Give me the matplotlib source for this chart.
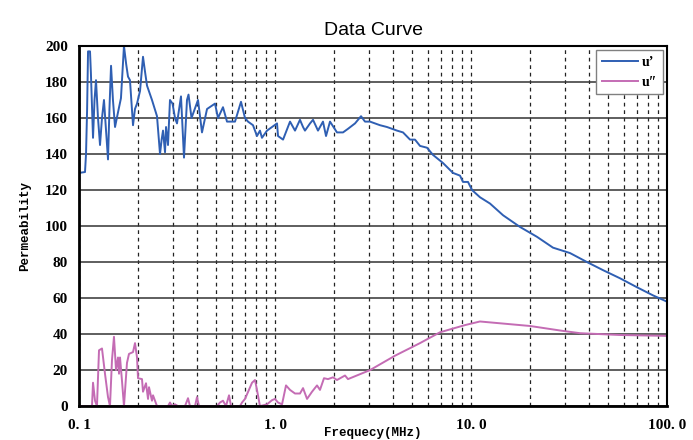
import matplotlib
matplotlib.use("Agg")
import matplotlib.pyplot as plt
import numpy as np

# u' (real part) : frequency in MHz, permeability
f_real = [0.100, 0.1073, 0.1086, 0.1100, 0.1112, 0.1138, 0.1150, 0.1179, 0.1200, 0.1221,
          0.1250, 0.1280, 0.1310, 0.1341, 0.1370, 0.1406, 0.1430, 0.1457, 0.1490, 0.1527,
          0.1580, 0.1637, 0.1696, 0.1740, 0.1778, 0.1820, 0.1886, 0.1930, 0.1977, 0.2048,
          0.2121, 0.2170, 0.2223, 0.2357, 0.2500, 0.2590, 0.2640, 0.2683, 0.2747, 0.2780,
          0.2845, 0.2912, 0.3000, 0.3089, 0.3162, 0.3314, 0.3433, 0.3556, 0.3620, 0.3750,
          0.4047, 0.4241, 0.4500, 0.4942, 0.5119, 0.5428, 0.5689, 0.6033, 0.6251, 0.6707,
          0.7030, 0.7282, 0.7722, 0.8091, 0.8381, 0.8580, 0.9104, 0.9654, 1.024, 1.036,
          1.099, 1.193, 1.265, 1.341, 1.390, 1.422, 1.509, 1.563, 1.657, 1.757,
          1.821, 1.908, 2.071, 2.223, 2.357, 2.560, 2.747, 2.878, 3.052, 3.433,
          3.727, 4.193, 4.499, 4.885, 5.179, 5.494, 5.964, 6.400, 7.196, 8.093,
          8.788, 9.103, 9.654, 10.12, 11.11, 12.50, 14.57, 17.78, 21.72, 26.20,
          32.00, 39.07, 47.17, 57.56, 70.30, 84.84, 100.0]
u_real = [129.5, 130, 140, 165, 197, 197, 185, 149, 170, 181,
          160, 145, 160, 170, 155, 137, 165, 189, 170, 155,
          163, 171, 200, 190, 183, 181, 156, 165, 168, 175,
          194, 186, 178, 170, 161, 140, 148, 153, 141, 155,
          145, 170, 168, 160, 157, 172, 138, 170, 173, 160,
          170, 152, 165, 168, 160, 166, 158, 158, 158, 169,
          160, 158, 156, 150, 153, 149, 153, 155, 157, 150,
          148, 158, 153, 159, 155, 153, 157, 159, 153, 158,
          150, 158, 152, 152, 154, 157, 161, 158, 158, 156,
          155, 153, 152, 148, 148, 144.5, 143.5, 139.5, 135, 129.5,
          128, 124.5, 124.5, 120, 116, 112.5, 106, 99.5, 94, 88,
          85, 80, 75.5, 71, 66, 61.5, 58]

# u'' (imaginary part)
f_imag = [0.100, 0.1165, 0.1179, 0.1207, 0.1235, 0.1265, 0.1310, 0.1357, 0.1406, 0.1439,
          0.1473, 0.1508, 0.1545, 0.1581, 0.1600, 0.1619, 0.1657, 0.1696, 0.1757, 0.1799,
          0.1886, 0.1931, 0.1977, 0.2000, 0.2096, 0.2121, 0.2197, 0.2250, 0.2276, 0.2357,
          0.2386, 0.2500, 0.2845, 0.2912, 0.2981, 0.3089, 0.3199, 0.3474, 0.3599, 0.3684,
          0.3907, 0.4000, 0.4095, 0.5059, 0.5240, 0.5428, 0.5623, 0.5826, 0.5965, 0.6628,
          0.6786, 0.7030, 0.7636, 0.7907, 0.8091, 0.8381, 0.9104, 0.9654, 1.000, 1.036,
          1.086, 1.138, 1.193, 1.265, 1.341, 1.390, 1.457, 1.545, 1.638, 1.696,
          1.778, 1.864, 1.977, 2.071, 2.276, 2.357, 3.052, 4.095, 5.494, 6.948,
          9.320, 11.11, 14.06, 20.00, 28.45, 35.97, 57.56, 100.0]
u_imag = [0, 0, 13, 3, 0, 31, 32, 18, 5, 0,
          25.5, 38.5, 20, 27, 18, 27, 14, 0, 24, 29,
          30, 35, 27, 15.5, 15, 8, 12.7, 4, 10.5, 3,
          6, 0, 0, 2, 0, 1, 0, 0, 4.4, 0,
          0, 5, 0, 0, 2, 3, 0, 6, 0, 0,
          2, 4, 13, 14.5, 9, 0, 1, 3.3, 4, 2,
          1, 11.5, 9, 7, 7, 10, 4, 8, 11.5, 9,
          15.5, 15, 16, 14.5, 17, 15, 20, 28, 35, 41,
          45, 47, 46, 44.5, 42, 40.5, 39.5, 39]

x_ticks = [0.1, 1, 10, 100]
x_labels = ["0. 1", "1. 0", "10. 0", "100. 0"]
y_ticks = list(range(0, 201, 20))

fig = plt.figure(figsize=(6.93, 4.40), dpi=100)
ax = fig.add_axes([0.114, 0.077, 0.8485, 0.8185])

ax.plot(f_real, u_real, color="#2f5fb3", lw=1.4, label="u’")
ax.plot(f_imag, u_imag, color="#c46cb4", lw=1.4, label="u″")

ax.set_xscale("log")
ax.set_xlim(0.1, 100)
ax.set_ylim(0, 200)

ax.set_xticks(x_ticks)
ax.set_xticklabels(x_labels)
ax.set_yticks(y_ticks)
ax.xaxis.set_minor_locator(matplotlib.ticker.LogLocator(base=10, subs=np.arange(2, 10)))
ax.xaxis.set_minor_formatter(matplotlib.ticker.NullFormatter())
ax.tick_params(which="both", length=0, pad=8)
ax.tick_params(axis="x", pad=9)
for lab in ax.get_xticklabels() + ax.get_yticklabels():
    lab.set_fontfamily("Liberation Serif")
    lab.set_fontweight("bold")
    lab.set_fontsize(11)

ax.grid(axis="y", color="#333333", lw=1.1, ls="-")
ax.grid(axis="x", which="both", color="#222222", lw=0.9, ls=(0, (3, 3)))
ax.set_axisbelow(True)

for s in ["left", "bottom"]:
    ax.spines[s].set_linewidth(2)
for s in ["top", "right"]:
    ax.spines[s].set_linewidth(1.5)

ax.set_title("Data Curve", fontsize=14, fontfamily="Liberation Sans", pad=8)
ax.set_ylabel("Permeability", fontfamily="Liberation Mono", fontweight="bold",
              fontsize=9, labelpad=10)
ax.set_xlabel("Frequecy(MHz)", fontfamily="Liberation Mono", fontweight="bold",
              fontsize=9, labelpad=-3)

leg = ax.legend(loc="upper right", fancybox=False, framealpha=1, edgecolor="#808080",
                borderaxespad=0.3, handlelength=2.6, handletextpad=0.3,
                prop={"family": ["Liberation Serif", "DejaVu Serif"], "weight": "bold", "size": 10})

fig.savefig("out.png", dpi=100)
